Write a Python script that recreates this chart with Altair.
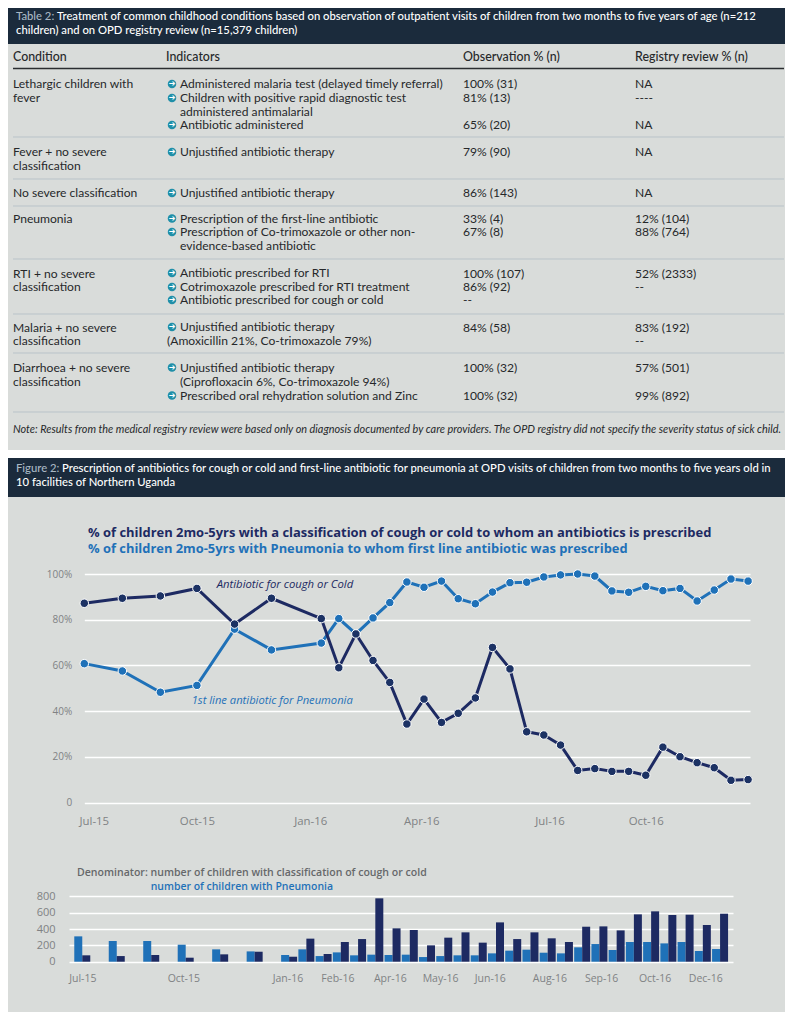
import altair as alt
import pandas as pd

FONT = "Lato"
GEO = "Open Sans"
BG = "#d9dcda"
DARKH = "#1b2b3c"
NAVY = "#1d2a62"
NAVYPT = "#1c3264"
BLUE = "#1f71b8"
TEAL = "#1f8fa8"
GREY = "#808284"
W = 777

# ---------- chart values ----------
line_x = [0, 1, 2, 2.96, 3.95, 4.92, 6.23, 6.69, 7.14, 7.59, 8.03, 8.48, 8.93, 9.39, 9.83, 10.28,
          10.73, 11.19, 11.63, 12.08, 12.52, 12.97, 13.42, 13.87, 14.31, 14.76, 15.21, 15.66,
          16.11, 16.56, 17.0, 17.45]
cough = [87.2, 89.4, 90.4, 93.7, 78.1, 89.4, 80.5, 59, 73.8, 62.2, 52.6, 34.4, 45.3, 35.1, 39.1, 45.8,
         67.9, 58.5, 31.0, 29.6, 25.2, 14.1, 14.9, 13.7, 13.7, 12.0, 24.3, 20.1, 17.5, 15.3, 9.8, 10.1]
pneu = [60.8, 57.6, 48.3, 51.3, 75.9, 66.8, 69.8, 80.5, 73.8, 80.8, 87.5, 96.5, 94.2, 96.9, 89.2, 87,
        92.1, 96.2, 96.4, 98.7, 99.6, 100, 99.1, 92.6, 92, 94.6, 92.7, 93.7, 88.2, 93, 97.8, 96.9]
line_tick_pos = [0.25, 2.96, 5.94, 8.86, 12.23, 14.76]
line_tick_lab = ["Jul-15", "Oct-15", "Jan-16", "Apr-16", "Jul-16", "Oct-16"]
pct_ticks = [0, 20, 40, 60, 80, 100]

bar_x = [0, 1, 2, 3, 4, 5, 6, 6.5, 7, 7.5, 8, 8.5, 9, 9.5, 10, 10.5, 11, 11.5, 12, 12.5, 13, 13.5,
         14, 14.5, 15, 15.5, 16, 16.5, 17, 17.5, 18, 18.5]
bar_pneu = [310, 253, 253, 208, 151, 126, 82, 151, 69, 114, 78, 86, 82, 86, 57, 69, 78, 78, 102, 135,
            147, 110, 102, 176, 216, 143, 241, 241, 224, 241, 131, 155]
bar_cough = [78, 69, 82, 49, 90, 122, 61, 282, 94, 241, 277, 775, 408, 388, 200, 294, 359, 233, 481, 277,
             359, 286, 241, 428, 432, 383, 579, 616, 571, 575, 449, 587]
bar_tick_pos = [0, 2.93, 5.95, 7.4, 8.92, 10.38, 11.82, 13.55, 15.05, 16.6, 18.07]
bar_tick_lab = ["Jul-15", "Oct-15", "Jan-16", "Feb-16", "Apr-16", "May-16", "Jun-16", "Aug-16", "Sep-16",
                "Oct-16", "Dec-16"]
count_ticks = [0, 200, 400, 600, 800]

# ---------- table values ----------
head1 = ["Treatment of common childhood conditions based on observation of outpatient visits of children from two months to five years of age (n=212",
         "children) and on OPD registry review (n=15,379 children)"]
head2 = ["Prescription of antibiotics for cough or cold and first-line antibiotic for pneumonia at OPD visits of children from two months to five years old in",
         "10 facilities of Northern Uganda"]
note = "Note: Results from the medical registry review were based only on diagnosis documented by care providers. The OPD registry did not specify the severity status of sick child."
columns = ["Condition", "Indicators", "Observation % (n)", "Registry review % (n)"]
conditions = [("Lethargic children with", 84), ("fever", 98), ("Fever + no severe", 152), ("classification", 166),
              ("No severe classification", 193), ("Pneumonia", 219), ("RTI + no severe", 274), ("classification", 287),
              ("Malaria + no severe", 328), ("classification", 341), ("Diarrhoea + no severe", 368), ("classification", 382)]
indicators = [("Administered malaria test (delayed timely referral)", 84, 1), ("Children with positive rapid diagnostic test", 98, 1),
              ("administered antimalarial", 111.5, 0), ("Antibiotic administered", 125, 1),
              ("Unjustified antibiotic therapy", 152, 1), ("Unjustified antibiotic therapy", 193, 1),
              ("Prescription of the first-line antibiotic", 218.5, 1), ("Prescription of Co-trimoxazole or other non-", 232, 1),
              ("evidence-based antibiotic", 246, 0), ("Antibiotic prescribed for RTI", 273, 1),
              ("Cotrimoxazole prescribed for RTI treatment", 287, 1), ("Antibiotic prescribed for cough or cold", 300, 1),
              ("Unjustified antibiotic therapy", 327, 1), ("Unjustified antibiotic therapy", 367.5, 1),
              ("(Ciprofloxacin 6%, Co-trimoxazole 94%)", 381.5, 0), ("Prescribed oral rehydration solution and Zinc", 395.5, 1)]
observed = [("100% (31)", 84), ("81% (13)", 98), ("65% (20)", 125), ("79% (90)", 152), ("86% (143)", 193),
            ("33% (4)", 219), ("67% (8)", 232), ("100% (107)", 274), ("86% (92)", 287), ("--", 300),
            ("84% (58)", 328), ("100% (32)", 368), ("100% (32)", 396)]
registry = [("NA", 84), ("----", 98), ("NA", 125), ("NA", 152), ("NA", 193), ("12% (104)", 219), ("88% (764)", 232),
            ("52% (2333)", 274), ("--", 287), ("83% (192)", 328), ("--", 341), ("57% (501)", 368), ("99% (892)", 396)]
separators = [137, 179, 206, 259, 314, 353, 412]


# ---------- helpers ----------
def lookup_expr(pos, lab):
    return "[" + ",".join(f"'{s}'" for s in lab) + "][indexof([" + ",".join(str(p) for p in pos) + "],datum.value)]"


def label(text, px, py, color, **kw):
    """One line of real text placed in the panel."""
    opts = dict(font=GEO, align="left", baseline="middle", color=color, text=text)
    opts.update(kw)
    return alt.Chart(pd.DataFrame({"a": [0]})).mark_text(**opts).encode(x=alt.value(px), y=alt.value(py))


def header(lines, first, dx, height, y0):
    kw = dict(font=FONT, fontSize=11.27, fontWeight=500)
    return alt.layer(
        label(first, 8, y0, "#a9b8c4", **kw),
        label(lines[0], 8 + dx, y0, "#ffffff", **kw),
        label(lines[1], 8, y0 + 14.5, "#ffffff", **kw),
    ).properties(width=W, height=height, view=alt.ViewConfig(fill=DARKH, stroke=None))


# ---------- table ----------
T0 = 44
rows = []
for t, y in conditions:
    rows.append({"t": t, "px": 5, "py": y - T0})
for t, y, b in indicators:
    rows.append({"t": t, "px": 172, "py": y - T0})
rows.append({"t": "(Amoxicillin 21%, Co-trimoxazole 79%)", "px": 159, "py": 341 - T0})
for t, y in observed:
    rows.append({"t": t, "px": 455, "py": y - T0})
for t, y in registry:
    rows.append({"t": t, "px": 627, "py": y - T0})
tbl_df = pd.DataFrame(rows)
hdr_df = pd.DataFrame({"t": columns, "px": [5, 158, 455, 627], "py": [57 - T0] * 4})
bul_df = pd.DataFrame([{"px": 164, "py": y - T0} for _, y, b in indicators if b]).drop_duplicates()
sep_df = pd.DataFrame({"py": [y - T0 for y in separators]})
rule_df = pd.DataFrame({"py": [68.5 - T0]})
TH = 406
sx = alt.Scale(domain=[0, W], range=[0, W], nice=False)
sy = alt.Scale(domain=[0, TH], range=[0, TH], nice=False)
X = alt.X("px:Q", scale=sx, axis=None)
Y = alt.Y("py:Q", scale=sy, axis=None)
table = alt.layer(
    alt.Chart(sep_df).mark_rule(color="#b9c3c9", strokeWidth=1).encode(x=alt.value(5), x2=alt.value(W - 1), y=Y),
    alt.Chart(rule_df).mark_rule(color="#2a2d30", strokeWidth=1.6).encode(x=alt.value(5), x2=alt.value(W - 1), y=Y),
    alt.Chart(hdr_df).mark_text(font=FONT, fontSize=12.4, align="left", baseline="middle", color="#26282a", fontWeight=500).encode(x=X, y=Y, text="t:N"),
    alt.Chart(tbl_df).mark_text(font=FONT, fontSize=12.1, align="left", baseline="middle", color="#26282a").encode(x=X, y=Y, text="t:N"),
    alt.Chart(bul_df).mark_point(filled=True, shape="circle", size=72, color=TEAL, opacity=1).encode(x=X, y=Y),
    alt.Chart(bul_df).mark_text(font="DejaVu Sans", fontSize=8, fontWeight="bold", color="#ffffff", text="➔").encode(x=X, y=Y),
    label(note, 5, 430 - T0, "#26282a", font=FONT, fontSize=10.88, fontStyle="italic"),
).properties(width=W, height=TH, view=alt.ViewConfig(fill=BG, stroke=None))

gap = alt.Chart(pd.DataFrame({"a": [0]})).mark_rect(color="#ffffff").encode(
    x=alt.value(0), x2=alt.value(W), y=alt.value(0), y2=alt.value(8)
).properties(width=W, height=8, view=alt.ViewConfig(fill="#ffffff", stroke=None))

# ---------- line panel ----------
line_df = pd.DataFrame({"x": line_x, "cough": cough, "pneu": pneu})
LH = 363
lx = alt.Scale(domain=[0, 17.5], range=[76.3, 742])
ly = alt.Scale(domain=[0, 100], range=[305.7, 77], nice=False)
base_l = alt.Chart(line_df)
LX = alt.X("x:Q", scale=lx, axis=alt.Axis(values=line_tick_pos, labelExpr=lookup_expr(line_tick_pos, line_tick_lab),
           title=None, domain=False, ticks=False, grid=False, labelFont=GEO, labelFontSize=11.4, labelColor=GREY,
           labelPadding=0, labelBaseline="middle", offset=-39, labelFlush=False, labelOverlap=False))


def LY(f):
    return alt.Y(f + ":Q", scale=ly, axis=alt.Axis(values=pct_ticks, labelExpr="datum.value==0?'0':datum.value+'%'", title=None,
                 domain=False, ticks=False, grid=True, gridColor="#ffffff", gridWidth=1.4, labelFont=GEO, labelFontSize=10,
                 labelColor=GREY, labelPadding=0, offset=-63.7, labelOverlap=False))


panel_line = alt.layer(
    base_l.mark_line(color=BLUE, strokeWidth=3).encode(x=LX, y=LY("pneu")),
    base_l.mark_point(filled=True, shape="circle", size=72, color=BLUE, stroke="#ffffff", strokeWidth=1, opacity=1).encode(x=LX, y=LY("pneu")),
    base_l.mark_line(color=NAVY, strokeWidth=3).encode(x=LX, y=LY("cough")),
    base_l.mark_point(filled=True, shape="circle", size=72, color=NAVYPT, stroke="#ffffff", strokeWidth=1, opacity=1).encode(x=LX, y=LY("cough")),
    label("% of children 2mo-5yrs with a classification of cough or cold to whom an antibiotics is prescribed", 80, 36, NAVY, fontSize=12.95, fontWeight="bold"),
    label("% of children 2mo-5yrs with Pneumonia to whom first line antibiotic was prescribed", 80, 52, BLUE, fontSize=12.9, fontWeight="bold"),
    label("Antibiotic for cough or Cold", 208.7, 88, NAVY, fontSize=11.3, fontStyle="italic"),
    label("1st line antibiotic for Pneumonia", 183.7, 204, BLUE, fontSize=11.2, fontStyle="italic"),
).properties(width=W, height=LH, view=alt.ViewConfig(fill=BG, stroke=None))

# ---------- bar panel ----------
bar_df = pd.DataFrame({"x": bar_x, "pneu": bar_pneu, "cough": bar_cough})
BH = 152
bx = alt.Scale(domain=[-0.24, 18.73], range=[61, 725])
by = alt.Scale(domain=[0, 800], range=[101.7, 36.3], nice=False)
BX = alt.X("x:Q", scale=bx, axis=alt.Axis(values=bar_tick_pos, labelExpr=lookup_expr(bar_tick_pos, bar_tick_lab),
           title=None, domain=False, ticks=False, grid=False, labelFont=GEO, labelFontSize=10.5, labelColor=GREY,
           labelPadding=0, labelBaseline="middle", offset=-(BH - 118), labelFlush=False, labelOverlap=False))


def BY(f):
    return alt.Y(f + ":Q", scale=by, axis=alt.Axis(values=count_ticks, title=None, domain=False, ticks=False, grid=True,
                 gridColor="#ffffff", gridWidth=1.4, labelFont=GEO, labelFontSize=11, labelColor=GREY, labelPadding=0,
                 offset=-47, labelOverlap=False))


panel_bar = alt.layer(
    alt.Chart(bar_df).mark_bar(color=BLUE, width=8, xOffset=-4).encode(x=BX, y=BY("pneu")),
    alt.Chart(bar_df).mark_bar(color=NAVY, width=8, xOffset=4).encode(x=BX, y=BY("cough")),
    label("Denominator: number of children with classification of cough or cold", 69, 13, "#66686a", fontSize=10.55, fontWeight=600),
    label("number of children with Pneumonia", 142.7, 27, BLUE, fontSize=10.45, fontWeight=600),
).properties(width=W, height=BH, view=alt.ViewConfig(fill=BG, stroke=None))

chart = alt.vconcat(
    header(head1, "Table 2:", 41, 36, 8.7),
    table,
    gap,
    header(head2, "Figure 2:", 46, 39, 10.7),
    panel_line,
    panel_bar,
    spacing=0,
    padding=0,
).configure_concat(spacing=0).configure_view(stroke=None)

chart.save("out.html", embed_options={"renderer": "svg", "actions": False})
